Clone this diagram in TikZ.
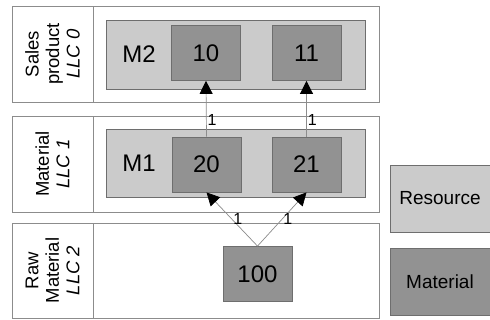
\documentclass[tikz,border=0pt]{standalone}
\usepackage{fontspec}
\setmainfont{Liberation Sans}
\usepackage{tikz}
\usetikzlibrary{arrows.meta,positioning}
\definecolor{resGray}{RGB}{203,203,203}
\definecolor{matGray}{RGB}{146,146,146}
\definecolor{edgeGray}{RGB}{110,110,110}
\definecolor{frameGray}{RGB}{140,140,140}

\begin{document}
\begin{tikzpicture}[x=1pt,y=-1pt,
  levelbox/.style={draw=frameGray,line width=0.9pt,fill=white,inner sep=0pt},
  levellabel/.style={levelbox,minimum height=81pt,rotate=90,align=center,font=\fontsize{18.5}{20.5}\selectfont},
  resbox/.style={draw=edgeGray,line width=0.8pt,fill=resGray,inner sep=0pt},
  matbox/.style={draw=edgeGray,line width=0.8pt,fill=matGray,inner sep=0pt,minimum width=69pt,minimum height=55pt,font=\fontsize{24}{28}\selectfont},
  qty/.style={font=\fontsize{16}{18}\selectfont,inner sep=1pt},
  bom/.style={draw=frameGray,line width=0.7pt,-{Triangle[length=13pt,width=13pt,color=black]}}]
\useasboundingbox (0,0) rectangle (490,320);

\node[levelbox,minimum width=367pt,minimum height=96pt] (row0) at (195.5,54) {};
\node[levelbox,minimum width=367pt,minimum height=96pt] (row1) at (195.5,164) {};
\node[levelbox,minimum width=367pt,minimum height=95pt] (row2) at (195.5,270.5) {};
\node[levellabel,minimum width=96pt] (lab0) at (52.5,54) {Sales\\product\\\textit{LLC 0}};
\node[levellabel,minimum width=96pt] (lab1) at (52.5,164) {Material\\\textit{LLC 1}};
\node[levellabel,minimum width=95pt] (lab2) at (52.5,270.5) {Raw\\Material\\\textit{LLC 2}};

\node[resbox,minimum width=259pt,minimum height=69pt] (resM2) at (235.5,54.5) {};
\node[resbox,minimum width=259pt,minimum height=68pt] (resM1) at (235.5,163) {};
\node[font=\fontsize{24}{28}\selectfont] (nameM2) at (139,54) {M2};
\node[font=\fontsize{24}{28}\selectfont] (nameM1) at (139,163) {M1};

\node[matbox] (mat10) at (206,53) {10};
\node[matbox] (mat11) at (306.5,53) {11};
\node[matbox] (mat20) at (206.5,164.5) {20};
\node[matbox] (mat21) at (306.5,164.5) {21};
\node[matbox] (mat100) at (257.5,274) {100};

\node[resbox,minimum width=100pt,minimum height=67pt,font=\fontsize{19}{22}\selectfont] (keyRes) at (440,198.5) {Resource};
\node[matbox,minimum width=100pt,minimum height=67pt,font=\fontsize{19}{22}\selectfont] (keyMat) at (440,281.5) {Material};

\draw[bom] (mat20.north) -- (mat10.south) node[qty,pos=.3,right] {1};
\draw[bom] (mat21.north) -- (mat11.south) node[qty,pos=.3,right] {1};
\draw[bom] (mat100.north) -- (mat20.south) node[qty,pos=.5,right] {1};
\draw[bom] (mat100.north) -- (mat21.south) node[qty,pos=.5,right] {1};
\end{tikzpicture}
\end{document}
